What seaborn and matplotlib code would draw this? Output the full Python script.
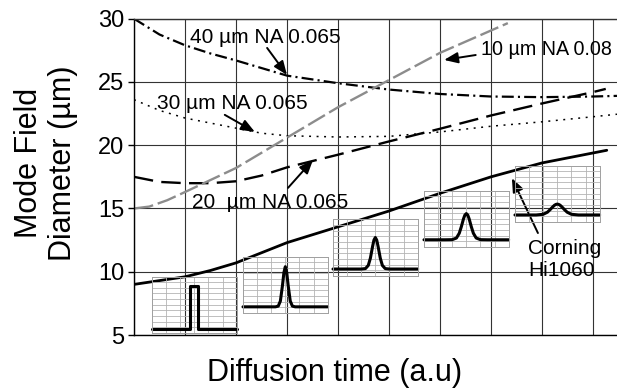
import matplotlib
matplotlib.use("Agg")
import matplotlib.pyplot as plt
import seaborn as sns
import pandas as pd

# ---------------- data ----------------
# x in arbitrary diffusion-time units (one grid column = 1)
t_40 = [0, 0.5, 1, 1.5, 2, 2.5, 3, 4, 5, 6, 7, 8, 9, 9.47]
mfd_40 = [30.0, 28.75, 27.9, 27.25, 26.7, 26.1, 25.5, 24.9, 24.4, 24.05, 23.85, 23.8, 23.85, 23.9]

t_30 = [0, 0.5, 1, 1.5, 2, 2.5, 3, 4, 5, 6, 7, 8, 9, 9.47]
mfd_30 = [23.6, 22.75, 22.15, 21.75, 21.35, 20.95, 20.75, 20.65, 20.7, 21.05, 21.5, 21.85, 22.25, 22.45]

t_20 = [0, 0.5, 1, 1.5, 2, 2.5, 3, 4, 5, 6, 7, 8, 9, 9.25]
mfd_20 = [17.5, 17.1, 17.0, 17.0, 17.15, 17.6, 18.25, 19.25, 20.3, 21.3, 22.35, 23.3, 24.2, 24.45]

t_10 = [0, 0.3, 0.65, 1, 2, 3, 4, 5, 6, 7.33]
mfd_10 = [15.0, 15.15, 15.65, 16.3, 18.2, 20.6, 23.0, 25.15, 27.3, 29.65]

t_hi = [0, 1, 1.5, 2, 3, 4, 5, 6, 7, 8, 9.27]
mfd_hi = [9.0, 9.6, 10.1, 10.7, 12.3, 13.55, 14.8, 16.2, 17.5, 18.6, 19.6]

y_ticks = [5, 10, 15, 20, 25, 30]

# index profiles shown in the small insets (inset units: x 0..6, y 0..10)
step_x = [0, 2.68, 2.68, 3.25, 3.25, 6]
step_y = [0.7, 0.7, 8.4, 8.4, 0.7, 0.7]
prof_x = [0, 1.5, 2.0, 2.3, 2.5, 2.65, 2.8, 2.9, 3.0, 3.1, 3.2, 3.35, 3.5, 3.7, 4.0, 4.5, 6]
prof_2 = [1.07, 1.07, 1.07, 1.07, 1.2, 2.1, 4.9, 7.15, 8.2, 7.15, 4.9, 2.1, 1.2, 1.07, 1.07, 1.07, 1.07]
prof_3 = [1.2, 1.2, 1.2, 1.28, 1.84, 3.13, 5.15, 6.33, 6.8, 6.33, 5.15, 3.13, 1.84, 1.28, 1.2, 1.2, 1.2]
prof_4 = [1.25, 1.25, 1.27, 1.56, 2.41, 3.6, 4.97, 5.65, 5.9, 5.65, 4.97, 3.6, 2.41, 1.56, 1.27, 1.25, 1.25]
prof_5 = [1.23, 1.23, 1.35, 1.72, 2.2, 2.6, 2.96, 3.1, 3.16, 3.1, 2.96, 2.6, 2.2, 1.72, 1.35, 1.23, 1.23]

label_40 = "40 µm NA 0.065"
label_30 = "30 µm NA 0.065"
label_20 = "20  µm NA 0.065"
label_10 = "10 µm NA 0.08"
label_hi = "Corning\nHi1060"

# ---------------- style ----------------
sns.set_theme(style="white")
plt.rcParams["font.family"] = ["Liberation Sans", "DejaVu Sans"]
plt.rcParams["lines.scale_dashes"] = False

W, H = 617, 388
fig = plt.figure(figsize=(W / 100, H / 100), dpi=100)
ax = fig.add_axes([134 / W, (H - 335) / H, (W - 134) / W, (335 - 18.7) / H])

def draw(x, y, axis, **kw):
    df = pd.DataFrame({"x": x, "y": y})
    sns.lineplot(data=df, x="x", y="y", ax=axis, estimator=None, sort=False, **kw)

draw(t_40, mfd_40, ax, color="black", lw=1.6, linestyle=(0, (8.6, 3.0, 1.5, 3.0)))
draw(t_30, mfd_30, ax, color="black", lw=1.1, linestyle=(0, (1.4, 4.0)))
draw(t_20, mfd_20, ax, color="black", lw=1.7, linestyle=(0, (14, 6)))
draw(t_10, mfd_10, ax, color="#8c8c8c", lw=1.7, linestyle=(0, (14, 3.5)))
draw(t_hi, mfd_hi, ax, color="black", lw=2.0)

ax.set_xlim(0, 483 / 51)
ax.set_ylim(5, 30)
ax.set_xticks(range(10))
ax.set_yticks(y_ticks)
ax.grid(True, color="#333333", lw=0.8)
ax.set_axisbelow(True)
ax.tick_params(axis="x", length=0, labelbottom=False)
ax.tick_params(axis="y", left=True, direction="out", length=4, width=1,
               color="black", labelsize=17, pad=3, labelcolor="black")
for s in ["left", "bottom", "top"]:
    ax.spines[s].set_color("black")
    ax.spines[s].set_linewidth(1.0)
ax.spines["top"].set_color("#333333")
ax.spines["right"].set_visible(False)

ax.set_xlabel("Diffusion time (a.u)", fontsize=22, color="black", va="center")
ax.xaxis.set_label_coords(0.415, -0.12)
ax.set_ylabel("Mode Field\nDiameter (µm)", fontsize=22, color="black", va="center",
              linespacing=1.15)
ax.yaxis.set_label_coords(-0.182, 0.544)

# ---------------- annotations ----------------
afs = 15
ap = dict(arrowstyle="-|>,head_length=0.55,head_width=0.22", color="black", lw=1.4,
          shrinkA=0, shrinkB=0, mutation_scale=15)
ax.text(1.10, 28.55, label_40, fontsize=afs, ha="left", va="center", color="black")
ax.annotate("", xy=(3.0, 25.55), xytext=(2.61, 27.69), arrowprops=ap)
ax.text(0.45, 23.26, label_30, fontsize=afs, ha="left", va="center", color="black")
ax.annotate("", xy=(2.37, 21.05), xytext=(1.78, 22.4), arrowprops=ap)
ax.text(1.14, 15.44, label_20, fontsize=afs, ha="left", va="center", color="black")
ax.annotate("", xy=(3.51, 18.84), xytext=(3.02, 16.63), arrowprops=ap)
ax.text(6.80, 27.53, label_10, fontsize=14.2, ha="left", va="center", color="black",
        clip_on=False)
ax.annotate("", xy=(6.08, 26.74), xytext=(6.70, 27.13), arrowprops=ap)
ax.text(7.73, 10.94, label_hi, fontsize=afs, ha="left", va="center", color="black",
        linespacing=1.2)
ax.annotate("", xy=(7.41, 17.4), xytext=(7.92, 13.06), arrowprops=ap)

# ---------------- insets ----------------
insets = [
    ((0.353, 5.17), step_x, step_y),
    ((2.137, 6.75), prof_x, prof_2),
    ((3.902, 9.68), prof_x, prof_3),
    ((5.686, 11.97), prof_x, prof_4),
    ((7.47, 13.94), prof_x, prof_5),
]
for (x0, y0), px, py in insets:
    iax = ax.inset_axes([x0, y0, 1.66, 4.45], transform=ax.transData)
    iax.set_facecolor("none")
    iax.set_xlim(0, 6)
    iax.set_ylim(0, 10)
    iax.set_xticks(range(7))
    iax.set_yticks(range(11))
    iax.grid(True, color="#b4b4b4", lw=0.6)
    iax.tick_params(length=0, labelbottom=False, labelleft=False)
    for s in iax.spines.values():
        s.set_color("#a0a0a0")
        s.set_linewidth(0.7)
    draw(px, py, iax, color="black", lw=2.2, clip_on=False)
    iax.set_xlabel("")
    iax.set_ylabel("")

fig.savefig("out.png", dpi=100)
